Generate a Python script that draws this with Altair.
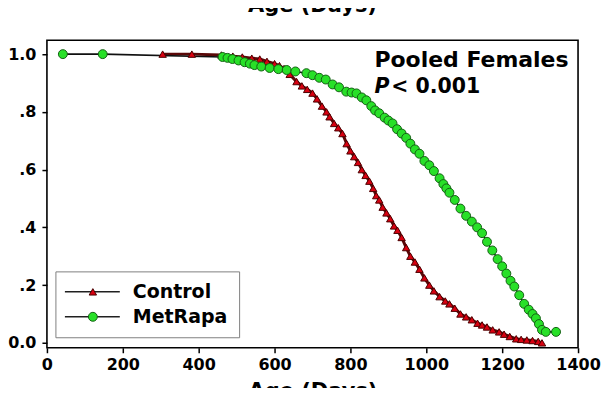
import altair as alt
import pandas as pd

series_names = ["Control", "MetRapa"]

control_age = [305, 382, 460, 490, 515, 540, 561, 580, 600, 613, 625, 640, 658, 672, 686,
               700, 712, 725, 737, 745, 757, 768, 779, 790, 800, 810, 820, 830, 840, 850,
               860, 868, 876, 885, 895, 905, 915, 924, 935, 947, 958, 970, 982, 995, 1008,
               1020, 1035, 1050, 1061, 1075, 1090, 1105, 1120, 1135, 1147, 1160, 1175, 1192,
               1205, 1220, 1237, 1250, 1265, 1280, 1295, 1305]
control_surv = [1.0, 1.0, 0.997, 0.993, 0.99, 0.986, 0.983, 0.975, 0.967, 0.96, 0.95, 0.93,
                0.905, 0.89, 0.878, 0.865, 0.845, 0.82, 0.80, 0.783, 0.76, 0.745, 0.725, 0.69,
                0.665, 0.645, 0.625, 0.60, 0.58, 0.56, 0.535, 0.51, 0.495, 0.47, 0.45, 0.43,
                0.405, 0.39, 0.365, 0.33, 0.30, 0.28, 0.255, 0.225, 0.20, 0.18, 0.16, 0.145,
                0.135, 0.12, 0.10, 0.09, 0.08, 0.068, 0.062, 0.055, 0.045, 0.038, 0.03, 0.022,
                0.014, 0.012, 0.01, 0.008, 0.005, 0.0]

metrapa_age = [42, 147, 463, 476, 489, 505, 521, 535, 547, 565, 587, 610, 632, 655, 684, 700,
               718, 735, 753, 770, 789, 803, 816, 830, 842, 855, 865, 876, 890, 900, 911, 923,
               935, 947, 958, 970, 982, 995, 1008, 1020, 1035, 1045, 1053, 1061, 1075, 1090,
               1105, 1120, 1134, 1147, 1160, 1174, 1188, 1200, 1211, 1222, 1232, 1245, 1258,
               1270, 1280, 1289, 1297, 1305, 1315, 1342]
metrapa_surv = [1.0, 1.0, 0.99, 0.987, 0.983, 0.978, 0.972, 0.967, 0.962, 0.957, 0.952, 0.948,
                0.945, 0.94, 0.934, 0.927, 0.918, 0.912, 0.895, 0.885, 0.87, 0.867, 0.864, 0.85,
                0.84, 0.82, 0.805, 0.795, 0.78, 0.77, 0.76, 0.74, 0.725, 0.71, 0.69, 0.67, 0.655,
                0.63, 0.615, 0.595, 0.57, 0.55, 0.535, 0.52, 0.495, 0.465, 0.44, 0.42, 0.40,
                0.38, 0.35, 0.32, 0.29, 0.265, 0.24, 0.215, 0.195, 0.165, 0.135, 0.115, 0.10,
                0.085, 0.065, 0.045, 0.038, 0.038]

x_ticks = [0, 200, 400, 600, 800, 1000, 1200, 1400]
y_ticks = [0.0, 0.2, 0.4, 0.6, 0.8, 1.0]
axis_title = "Age (Days)"
annotation_title = "Pooled Females"
annotation_p = "P"
annotation_value = "< 0.001"

FONT = "DejaVu Sans"

df = pd.concat([
    pd.DataFrame({"series": "Control", "age": control_age, "surv": control_surv}),
    pd.DataFrame({"series": "MetRapa", "age": metrapa_age, "surv": metrapa_surv}),
], ignore_index=True)
legend_df = pd.DataFrame({"series": series_names})

W, H = 532, 308
xs = alt.Scale(domain=[0, 1400], nice=False, zero=False)
ys = alt.Scale(domain=[-0.017, 1.048], nice=False, zero=False)
shape_scale = alt.Scale(domain=series_names, range=["triangle-up", "circle"])
fill_scale = alt.Scale(domain=series_names, range=["#d80010", "#28e028"])
stroke_scale = alt.Scale(domain=series_names, range=["#4a0000", "#146014"])
size_scale = alt.Scale(domain=series_names, range=[55, 80])
line_scale = alt.Scale(domain=series_names, range=["#5a0808", "#101010"])
width_scale = alt.Scale(domain=series_names, range=[3, 1.6])

x_enc = alt.X("age:Q", scale=xs,
              axis=alt.Axis(values=x_ticks, title=axis_title, titlePadding=8,
                            titleFontSize=21, labelPadding=4, format="d", labelFlush=False))
y_enc = alt.Y("surv:Q", scale=ys,
              axis=alt.Axis(values=y_ticks, title=None, labelPadding=6, labelFlush=False,
                            labelExpr="datum.value < 0.1 ? '0.0' : datum.value > 0.9 ? '1.0' : '.' + round(datum.value * 10)"))

base = alt.Chart(df)
lines = base.mark_line().encode(
    x=x_enc, y=y_enc, detail="series:N", order="age:Q",
    color=alt.Color("series:N", scale=line_scale, legend=None),
    strokeWidth=alt.StrokeWidth("series:N", scale=width_scale, legend=None))
points = base.mark_point(filled=True, opacity=1, strokeWidth=1).encode(
    x=x_enc, y=y_enc,
    shape=alt.Shape("series:N", scale=shape_scale, legend=None),
    fill=alt.Fill("series:N", scale=fill_scale, legend=None),
    stroke=alt.Stroke("series:N", scale=stroke_scale, legend=None),
    size=alt.Size("series:N", scale=size_scale, legend=None),
)

layers = [lines, points]

# legend (drawn manually: line with marker)
box = alt.Chart(legend_df).transform_filter(alt.datum.series == series_names[0]).mark_rect(
    fill="white", stroke="#808080", strokeWidth=1).encode(
    x=alt.value(9), x2=alt.value(193), y=alt.value(232), y2=alt.value(298))
layers.append(box)
for name, yv in zip(series_names, [252, 277]):
    sub = alt.Chart(legend_df).transform_filter(alt.datum.series == name)
    layers.append(sub.mark_rule(color="#202020", strokeWidth=1.5).encode(
        x=alt.value(18), x2=alt.value(73), y=alt.value(yv)))
    layers.append(sub.mark_point(filled=True, opacity=1, strokeWidth=1).encode(
        x=alt.value(46), y=alt.value(yv),
        shape=alt.Shape("series:N", scale=shape_scale, legend=None),
        fill=alt.Fill("series:N", scale=fill_scale, legend=None),
        stroke=alt.Stroke("series:N", scale=stroke_scale, legend=None),
        size=alt.Size("series:N", scale=size_scale, legend=None)))
    layers.append(sub.mark_text(align="left", baseline="middle", font=FONT, fontSize=19,
                                fontWeight="bold", color="black").encode(
        x=alt.value(86), y=alt.value(yv), text="series:N"))

ann_df = pd.DataFrame({"t": [annotation_title, annotation_p, annotation_value, axis_title],
                       "k": ["title", "p", "val", "top"]})
ann = alt.Chart(ann_df)
layers.append(ann.transform_filter(alt.datum.k == "title").mark_text(
    align="left", baseline="alphabetic", font=FONT, fontSize=22, fontWeight="bold", color="black").encode(
    x=alt.value(328), y=alt.value(27), text="t:N"))
layers.append(ann.transform_filter(alt.datum.k == "p").mark_text(
    align="left", baseline="alphabetic", font=FONT, fontSize=20.5, fontWeight="bold",
    fontStyle="italic", color="black").encode(
    x=alt.value(328), y=alt.value(53), text="t:N"))
layers.append(ann.transform_filter(alt.datum.k == "val").mark_text(
    align="left", baseline="alphabetic", font=FONT, fontSize=20.5, fontWeight="bold", color="black").encode(
    x=alt.value(345), y=alt.value(53), text="t:N"))
layers.append(ann.transform_filter(alt.datum.k == "top").mark_text(
    align="center", baseline="alphabetic", font=FONT, fontSize=21, fontWeight="bold", color="black").encode(
    x=alt.value(W / 2), y=alt.value(-28), text="t:N"))

chart = alt.layer(*layers).properties(
    width=W, height=H,
    autosize=alt.AutoSizeParams(type="none"),
    padding={"left": 39, "top": 32, "right": 24, "bottom": 40},
    background="white",
).configure_view(stroke="black", strokeWidth=1.6).configure_axis(
    grid=False, domain=False, tickColor="black", tickWidth=1.5, tickSize=5,
    labelFont=FONT, labelFontSize=16, labelFontWeight="bold", labelColor="black",
    titleFont=FONT, titleFontWeight="bold", titleColor="black",
)

chart.save("out.html", embed_options={"renderer": "svg", "actions": False})
